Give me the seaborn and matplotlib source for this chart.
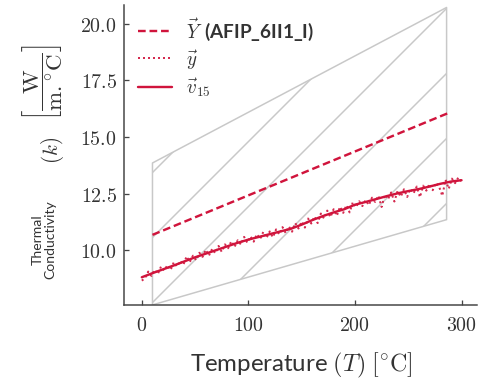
import matplotlib
matplotlib.use("Agg")
import matplotlib.pyplot as plt
import numpy as np
import pandas as pd
import seaborn as sns
from matplotlib.ticker import FuncFormatter, FixedLocator

# ---------------- data ----------------
T_band = [10, 286]
k_lower = [7.6, 11.36]
k_upper = [13.86, 20.72]

T_afip = [10, 288]
k_afip = [10.69, 16.07]

T_smooth = [0, 10, 20, 30, 40, 50, 60, 70, 80, 90, 100, 110, 120, 130, 140, 150,
            160, 170, 180, 190, 200, 210, 220, 230, 240, 250, 260, 270, 280, 290, 300]
k_smooth = [8.82, 9.00, 9.17, 9.34, 9.52, 9.70, 9.86, 10.02, 10.18, 10.34, 10.48,
            10.60, 10.72, 10.84, 10.96, 11.14, 11.34, 11.52, 11.68, 11.82, 12.02,
            12.14, 12.27, 12.40, 12.52, 12.62, 12.71, 12.82, 12.94, 13.04, 13.10]

T_meas = [0, 3, 6, 9, 12, 15, 18, 21, 24, 27, 30, 33, 36, 39, 42, 45, 48, 51, 54, 57,
          60, 63, 66, 69, 72, 75, 78, 81, 84, 87, 90, 93, 96, 99, 102, 105, 108, 111,
          114, 117, 120, 123, 126, 129, 132, 135, 138, 141, 144, 147, 150, 153, 156,
          159, 162, 165, 168, 171, 174, 177, 180, 183, 186, 189, 192, 195, 198, 201,
          204, 207, 210, 213, 216, 219, 222, 225, 228, 231, 234, 237, 240, 243, 246,
          249, 252, 255, 258, 261, 264, 267, 270, 273, 276, 279, 282, 285, 288, 291,
          294, 297, 300]
k_meas = [8.67, 8.78, 9.07, 8.88, 9.15, 8.96, 9.29, 9.12, 9.35, 9.14, 9.48, 9.29,
          9.54, 9.37, 9.74, 9.49, 9.77, 9.57, 9.90, 9.72, 10.03, 9.78, 10.07, 9.88,
          10.20, 9.94, 10.27, 10.10, 10.41, 10.16, 10.45, 10.26, 10.60, 10.34,
          10.62, 10.39, 10.72, 10.51, 10.82, 10.55, 10.84, 10.58, 10.93, 10.71,
          11.03, 10.77, 11.06, 10.83, 11.21, 10.97, 11.28, 11.01, 11.41, 11.19,
          11.50, 11.21, 11.63, 11.41, 11.76, 11.47, 11.82, 11.53, 11.93, 11.66,
          12.00, 11.68, 12.13, 11.91, 12.17, 11.96, 12.22, 12.00, 12.33, 12.14,
          12.42, 11.92, 12.46, 12.26, 12.56, 12.16, 12.62, 12.37, 12.70, 12.36,
          12.72, 12.52, 12.82, 12.35, 12.86, 12.64, 12.94, 12.66, 12.99, 12.81,
          12.41, 13.12, 12.72, 13.17, 12.97, 13.22, 13.04]

x_ticks = [0, 100, 200, 300]
y_ticks = [10.0, 12.5, 15.0, 17.5, 20.0]

label_afip = r"$\vec{Y}\,$ (AFIP_6II1_I)"
label_meas = r"$\vec{y}$"
label_smooth = r"$\vec{v}_{15}$"

# ---------------- style ----------------
DPI = 195
PX = 72.0 / DPI  # points per pixel

sns.set_theme(style="ticks")
plt.rcParams["font.family"] = ["Lato", "DejaVu Sans"]
plt.rcParams["mathtext.fontset"] = "cm"
plt.rcParams["hatch.linewidth"] = 1.5 * PX
plt.rcParams["axes.unicode_minus"] = False

RED = "#d0143c"
GRAY = "#c8c8c8"
AXC = "#444444"
TXT = "#333333"

fig = plt.figure(figsize=(480.5 / DPI, 379.5 / DPI), dpi=DPI)
ax = fig.add_axes([124 / 480, 1 - 305 / 379, (477 - 124) / 480, (305 - 5) / 379])

# hatched envelope
ax.fill_between(T_band, k_lower, k_upper, facecolor="none", edgecolor=GRAY,
                hatch="/", linewidth=1.5 * PX, zorder=1)

df_afip = pd.DataFrame({"T": T_afip, "k": k_afip})
df_meas = pd.DataFrame({"T": T_meas, "k": k_meas})
df_smooth = pd.DataFrame({"T": T_smooth, "k": k_smooth})

sns.lineplot(data=df_afip, x="T", y="k", ax=ax, color=RED, linestyle=(0, (3.2, 1.6)),
             linewidth=2.4 * PX, label=label_afip, estimator=None, zorder=3)
sns.lineplot(data=df_meas, x="T", y="k", ax=ax, color=RED, linestyle=(0, (1, 1.5)),
             linewidth=2.0 * PX, label=label_meas, estimator=None, zorder=5, alpha=0.9)
sns.lineplot(data=df_smooth, x="T", y="k", ax=ax, color=RED, linestyle="-",
             linewidth=2.4 * PX, label=label_smooth, estimator=None, zorder=4)

ax.set_xlim(-16.6, 315)
ax.set_ylim(7.6, 20.85)
ax.xaxis.set_major_locator(FixedLocator(x_ticks))
ax.yaxis.set_major_locator(FixedLocator(y_ticks))
ax.xaxis.set_major_formatter(FuncFormatter(lambda v, p: f"${v:.0f}$"))
ax.yaxis.set_major_formatter(FuncFormatter(lambda v, p: f"${v:.1f}$"))

tick_fs = 20 * PX
ax.tick_params(axis="both", direction="in", length=5 * PX, width=1.3 * PX,
               color=AXC, labelcolor=TXT, labelsize=tick_fs)
ax.tick_params(axis="y", pad=7 * PX)
ax.tick_params(axis="x", pad=11 * PX)

sns.despine(ax=ax)
for s in ("left", "bottom"):
    ax.spines[s].set_linewidth(1.5 * PX)
    ax.spines[s].set_color(AXC)

ax.set_xlabel(r"Temperature $(T)$ $[^{\circ}\mathrm{C}]$", fontsize=24 * PX,
              color=TXT, labelpad=17 * PX)
ax.set_ylabel("")

fig.text(42 / 480, 1 - 82 / 379,
         r"$\left[\dfrac{\mathrm{W}}{\mathrm{m}.^{\circ}\mathrm{C}}\right]$",
         rotation=90, ha="center", va="center", fontsize=23 * PX, color=TXT)
fig.text(52 / 480, 1 - 150 / 379, r"$(k)$",
         rotation=90, ha="center", va="center", fontsize=21 * PX, color=TXT)
fig.text(44 / 480, 1 - 239 / 379, "Thermal\nConductivity", rotation=90,
         ha="center", va="center", fontsize=14 * PX, color=TXT,
         multialignment="center", linespacing=1.0)

leg = ax.legend(loc="upper left", bbox_to_anchor=((138 - 124) / 353, 1 - 12 / 300),
                frameon=False, handlelength=1.8,
                handletextpad=0.7, borderpad=0, borderaxespad=0, labelspacing=0.25,
                prop={"weight": "bold", "size": 19 * PX})
for t in leg.get_texts():
    t.set_color(TXT)

fig.savefig("out.png", dpi=DPI)
